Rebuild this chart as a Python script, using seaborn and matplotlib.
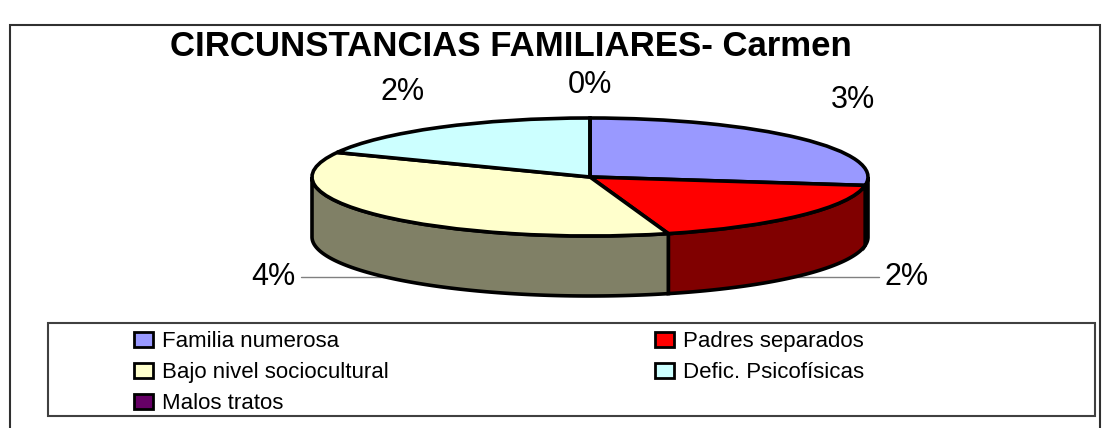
import numpy as np
import matplotlib
matplotlib.use("Agg")
import matplotlib.pyplot as plt
import matplotlib.colors as mcolors
from matplotlib.patches import Patch, Rectangle
import seaborn as sns

# data
categories = ["Familia numerosa", "Padres separados", "Bajo nivel sociocultural",
              "Defic. Psicofísicas", "Malos tratos"]
values = [3, 2, 4, 2, 0]
value_labels = ["3%", "2%", "4%", "2%", "0%"]
title = "CIRCUNSTANCIAS FAMILIARES- Carmen"

top_colors = ["#9999FF", "#FF0000", "#FFFFCC", "#CCFFFF", "#660066"]
# side of the 3d pie is the same colour at half brightness
side_colors = [tuple(np.array(mcolors.to_rgb(c)) * 0.5) for c in top_colors]

sns.set_theme(style="white")
plt.rcParams["font.family"] = ["Liberation Sans", "DejaVu Sans"]
plt.rcParams["text.color"] = "black"

W, H = 1104, 428
fig = plt.figure(figsize=(W / 100, H / 100), dpi=100)

# pie geometry in pixels: ellipse centre, half axes, thickness
cx, cy, a, b, depth_px = 590, 177, 278, 59, 60
depth = depth_px / b
ylo = -1 - depth - 0.05
ax_h = (1 - ylo) * b
ax = fig.add_axes([(cx - a) / W, (H - (cy - b) - ax_h) / H, 2 * a / W, ax_h / H])

wedges, _ = ax.pie(values, colors=top_colors, startangle=90, counterclock=False,
                   wedgeprops=dict(edgecolor="black", linewidth=2.6, zorder=3))
ax.set_aspect("auto")
ax.set_xlim(-1, 1)
ax.set_ylim(ylo, 1)
ax.axis("off")

# side walls for the front half of the pie
for w, col in zip(wedges, side_colors):
    for shift in (-360, 0, 360):
        lo = max(w.theta1 + shift, -180)
        hi = min(w.theta2 + shift, 0)
        if hi - lo <= 0:
            continue
        t = np.radians(np.linspace(lo, hi, 120))
        xs = np.concatenate([np.cos(t), np.cos(t[::-1])])
        ys = np.concatenate([np.sin(t), np.sin(t[::-1]) - depth])
        ax.fill(xs, ys, facecolor=col, edgecolor="black", linewidth=2.6, zorder=2,
                clip_on=False)

# value labels
for w, lab in zip(wedges, value_labels):
    m = np.radians((w.theta1 + w.theta2) / 2)
    if np.sin(m) >= -0.01:
        ax.text(1.25 * np.cos(m), 0.82 + 0.74 * np.sin(m), lab, ha="center",
                va="center", fontsize=22, color="black", clip_on=False)
    else:
        side = np.sign(np.cos(m))
        ly = -(depth + 0.67)
        ax.plot([0, side * 1.04], [ly, ly], color="#808080", lw=1, zorder=0,
                clip_on=False)
        ax.text(side * 1.06, ly, lab, ha="left" if side > 0 else "right",
                va="center", fontsize=22, color="black", clip_on=False)

fig.text(511 / W, 1 - 47 / H, title, ha="center", va="center",
         fontsize=25, fontweight="bold", color="black")

# legend, filled row by row like the original
order = [0, 2, 4, 1, 3]
handles = [Patch(facecolor=top_colors[i], edgecolor="black", linewidth=2) for i in order]
labels = [categories[i] for i in order]
fig.legend(handles, labels, loc="upper left", bbox_to_anchor=(123 / W, 1 - 320 / H),
           ncol=2, frameon=False, fontsize=16, borderpad=0, handlelength=0.85,
           handleheight=0.7, handletextpad=0.4, columnspacing=12.0, labelspacing=0.45,
           labelcolor="black")
fig.patches.append(Rectangle((48 / W, 12 / H), (1095 - 48) / W, 93 / H,
                             transform=fig.transFigure, fill=False,
                             edgecolor="#404040", linewidth=1.5))

# outer chart border
fig.patches.append(Rectangle((10 / W, -0.1), 1090 / W, 0.1 + (H - 25) / H,
                             transform=fig.transFigure, fill=False,
                             edgecolor="#303030", linewidth=1.5))

fig.savefig("out.png", dpi=100)
